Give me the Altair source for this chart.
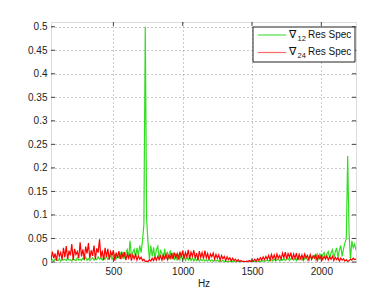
import altair as alt
import pandas as pd

freq_start = 50
freq_step = 10

green_vals = [
    0.003, 0.005, 0.002, 0.006, 0.004, 0.003, 0.007, 0.002, 0.005, 0.004,
    0.006, 0.003, 0.008, 0.004, 0.005, 0.002, 0.007, 0.005, 0.003, 0.009,
    0.004, 0.006, 0.003, 0.008, 0.005, 0.010, 0.004, 0.007, 0.003, 0.006,
    0.009, 0.004, 0.007, 0.005, 0.011, 0.006, 0.008, 0.004, 0.010, 0.006,
    0.012, 0.005, 0.009, 0.014, 0.006, 0.011, 0.016, 0.007, 0.013, 0.009,
    0.018, 0.006, 0.022, 0.010, 0.019, 0.026, 0.008, 0.045, 0.012, 0.021,
    0.027, 0.010, 0.030, 0.014, 0.035, 0.020, 0.045, 0.080, 0.500, 0.090,
    0.040, 0.006, 0.035, 0.012, 0.031, 0.008, 0.026, 0.033, 0.006, 0.024,
    0.019, 0.004, 0.028, 0.007, 0.022, 0.005, 0.025, 0.006, 0.020, 0.004,
    0.018, 0.003, 0.017, 0.005, 0.015, 0.004, 0.014, 0.003, 0.011, 0.004,
    0.010, 0.003, 0.009, 0.002, 0.008, 0.003, 0.007, 0.002, 0.006, 0.003,
    0.006, 0.002, 0.005, 0.002, 0.006, 0.002, 0.005, 0.001, 0.004, 0.002,
    0.004, 0.001, 0.003, 0.001, 0.003, 0.001, 0.002, 0.001, 0.002, 0.001,
    0.001, 0.002, 0.001, 0.001, 0.001, 0.001, 0.000, 0.001, 0.000, 0.000,
    0.000, 0.001, 0.000, 0.001, 0.001, 0.001, 0.002, 0.001, 0.002, 0.001,
    0.002, 0.001, 0.002, 0.003, 0.001, 0.003, 0.004, 0.002, 0.003, 0.005,
    0.002, 0.006, 0.003, 0.004, 0.007, 0.002, 0.006, 0.004, 0.007, 0.003,
    0.006, 0.008, 0.003, 0.007, 0.009, 0.004, 0.008, 0.003, 0.010, 0.005,
    0.009, 0.004, 0.011, 0.006, 0.012, 0.004, 0.010, 0.013, 0.005, 0.011,
    0.014, 0.005, 0.016, 0.007, 0.018, 0.006, 0.015, 0.020, 0.007, 0.017,
    0.022, 0.008, 0.019, 0.026, 0.009, 0.021, 0.030, 0.010, 0.025, 0.035,
    0.012, 0.028, 0.040, 0.050, 0.225, 0.060, 0.004, 0.045, 0.030, 0.038,
    0.025,
]

red_vals = [
    0.004, 0.022, 0.008, 0.018, 0.003, 0.026, 0.012, 0.020, 0.005, 0.030,
    0.010, 0.034, 0.006, 0.024, 0.014, 0.038, 0.004, 0.028, 0.016, 0.022,
    0.008, 0.042, 0.012, 0.027, 0.005, 0.033, 0.018, 0.040, 0.007, 0.025,
    0.013, 0.035, 0.006, 0.029, 0.020, 0.048, 0.009, 0.024, 0.004, 0.030,
    0.011, 0.028, 0.005, 0.022, 0.014, 0.025, 0.003, 0.020, 0.009, 0.023,
    0.006, 0.019, 0.010, 0.021, 0.004, 0.017, 0.008, 0.018, 0.003, 0.015,
    0.007, 0.016, 0.004, 0.013, 0.006, 0.010, 0.003, 0.006, 0.001, 0.002,
    0.001, 0.005, 0.002, 0.008, 0.003, 0.010, 0.004, 0.012, 0.005, 0.013,
    0.004, 0.015, 0.007, 0.016, 0.005, 0.014, 0.008, 0.019, 0.006, 0.020,
    0.009, 0.018, 0.005, 0.022, 0.010, 0.024, 0.007, 0.020, 0.011, 0.026,
    0.006, 0.021, 0.012, 0.025, 0.008, 0.019, 0.004, 0.023, 0.010, 0.020,
    0.007, 0.024, 0.009, 0.018, 0.005, 0.017, 0.011, 0.019, 0.006, 0.016,
    0.008, 0.015, 0.004, 0.014, 0.007, 0.012, 0.003, 0.011, 0.005, 0.009,
    0.002, 0.008, 0.003, 0.006, 0.002, 0.005, 0.001, 0.003, 0.001, 0.002,
    0.000, 0.002, 0.001, 0.003, 0.001, 0.004, 0.002, 0.006, 0.002, 0.007,
    0.003, 0.009, 0.004, 0.011, 0.005, 0.012, 0.006, 0.014, 0.004, 0.016,
    0.007, 0.015, 0.005, 0.017, 0.008, 0.014, 0.006, 0.019, 0.009, 0.021,
    0.006, 0.018, 0.010, 0.020, 0.005, 0.017, 0.008, 0.019, 0.004, 0.016,
    0.007, 0.015, 0.005, 0.017, 0.009, 0.014, 0.004, 0.016, 0.006, 0.013,
    0.008, 0.015, 0.003, 0.013, 0.007, 0.014, 0.005, 0.012, 0.006, 0.013,
    0.004, 0.011, 0.006, 0.012, 0.003, 0.010, 0.005, 0.009, 0.002, 0.008,
    0.004, 0.007, 0.002, 0.005, 0.001, 0.003, 0.006, 0.004, 0.008, 0.005,
    0.006,
]

series_names = ["\u2207\u2081\u2082 Res Spec", "\u2207\u2082\u2084 Res Spec"]
legend_symbol = "\u2207"
legend_subs = ["12", "24"]
legend_rest = "Res Spec"
series_colors = ["#33dd22", "#ff0000"]
legend_line_colors = ["#55dd44", "#ff6666"]

x_ticks = [500, 1000, 1500, 2000]
y_ticks = [0, 0.05, 0.1, 0.15, 0.2, 0.25, 0.3, 0.35, 0.4, 0.45, 0.5]
x_domain = [50, 2250]
y_domain = [0, 0.51]

rows = []
for i, v in enumerate(green_vals):
    rows.append({"freq": freq_start + i * freq_step, "val": v, "series": series_names[0]})
for i, v in enumerate(red_vals):
    rows.append({"freq": freq_start + i * freq_step, "val": v, "series": series_names[1]})
df = pd.DataFrame(rows)

W, H = 305, 240
FONT = "Liberation Sans"

xscale = alt.Scale(domain=x_domain, nice=False, zero=False)
yscale = alt.Scale(domain=y_domain, nice=False, zero=True)
cscale = alt.Scale(domain=series_names, range=series_colors)

xaxis = alt.Axis(values=x_ticks, title="Hz", grid=True, gridDash=[1, 3], gridColor="#999999",
                 ticks=False, domain=False, labelFontSize=10, labelFont=FONT, labelColor="#222",
                 titleFontSize=10, titleFont=FONT, titleFontWeight="normal", titleColor="#222",
                 labelPadding=4, titlePadding=2, format="d", labelOverlap=False)
yaxis = alt.Axis(values=y_ticks, title=None, grid=True, gridDash=[1, 3], gridColor="#999999",
                 ticks=False, domain=False, labelFontSize=10, labelFont=FONT, labelColor="#222",
                 labelPadding=4, format="~g", labelOverlap=False)

base = alt.Chart(df)

green = base.transform_filter(alt.datum.series == series_names[0]).mark_line(
    strokeWidth=1.2, clip=True
).encode(
    x=alt.X("freq:Q", scale=xscale, axis=xaxis),
    y=alt.Y("val:Q", scale=yscale, axis=yaxis),
    color=alt.Color("series:N", scale=cscale, sort=series_names, legend=None),
)

red = base.transform_filter(alt.datum.series == series_names[1]).mark_line(
    strokeWidth=1.2, clip=True
).encode(
    x=alt.X("freq:Q", scale=xscale, axis=xaxis),
    y=alt.Y("val:Q", scale=yscale, axis=yaxis),
    color=alt.Color("series:N", scale=cscale, sort=series_names, legend=None),
)

xt = pd.DataFrame({"t": x_ticks})
yt = pd.DataFrame({"t": y_ticks})

xtick_bottom = alt.Chart(xt).mark_rule(color="#444", strokeWidth=1).encode(
    x=alt.X("t:Q", scale=xscale, axis=xaxis), y=alt.value(H), y2=alt.value(H - 4))
xtick_top = alt.Chart(xt).mark_rule(color="#444", strokeWidth=1).encode(
    x=alt.X("t:Q", scale=xscale, axis=xaxis), y=alt.value(0), y2=alt.value(4))
ytick_left = alt.Chart(yt).mark_rule(color="#444", strokeWidth=1).encode(
    y=alt.Y("t:Q", scale=yscale, axis=yaxis), x=alt.value(0), x2=alt.value(4))
ytick_right = alt.Chart(yt).mark_rule(color="#444", strokeWidth=1).encode(
    y=alt.Y("t:Q", scale=yscale, axis=yaxis), x=alt.value(W), x2=alt.value(W - 4))

# custom legend (MATLAB-style box with subscripted labels)
one = pd.DataFrame({"k": [0]})
legend_layers = [
    alt.Chart(one).mark_rect(fill="white", stroke="#222", strokeWidth=1).encode(
        x=alt.value(202), x2=alt.value(304), y=alt.value(5), y2=alt.value(40))
]
row_y = [13, 30.5]
for i in range(2):
    ry = row_y[i]
    legend_layers.append(
        alt.Chart(one).mark_rule(color=legend_line_colors[i], strokeWidth=1.2).encode(
            x=alt.value(207), x2=alt.value(235), y=alt.value(ry)))
    legend_layers.append(
        alt.Chart(pd.DataFrame({"t": [legend_symbol]})).mark_text(
            font=FONT, fontSize=10.5, align="left", baseline="middle", color="#111").encode(
            text="t:N", x=alt.value(238), y=alt.value(ry - 0.5)))
    legend_layers.append(
        alt.Chart(pd.DataFrame({"t": [legend_subs[i]]})).mark_text(
            font=FONT, fontSize=7.5, align="left", baseline="middle", color="#111").encode(
            text="t:N", x=alt.value(246.5), y=alt.value(ry + 3.5)))
    legend_layers.append(
        alt.Chart(pd.DataFrame({"t": [legend_rest]})).mark_text(
            font=FONT, fontSize=10, align="left", baseline="middle", color="#111").encode(
            text="t:N", x=alt.value(257), y=alt.value(ry - 0.5)))

chart = alt.layer(green, red, xtick_bottom, xtick_top, ytick_left, ytick_right,
                  *legend_layers).resolve_scale(
    x="shared", y="shared"
).properties(
    width=W, height=H,
    autosize=alt.AutoSizeParams(type="none"),
    padding={"left": 43, "top": 14, "right": 28, "bottom": 32},
).configure_view(stroke="#555555", strokeWidth=1.5).configure(background="white")

chart.save("out.html", embed_options={"renderer": "svg", "actions": False})
